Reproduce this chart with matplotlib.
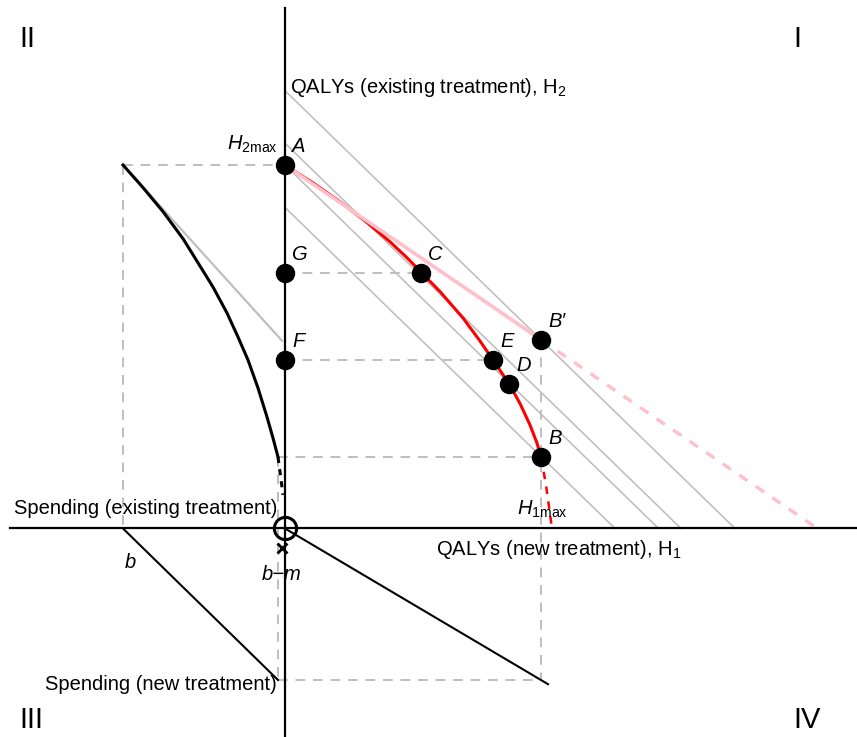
import matplotlib.pyplot as plt

plt.rcParams["font.family"] = ["Liberation Sans", "DejaVu Sans"]
plt.rcParams["mathtext.fontset"] = "custom"
plt.rcParams["mathtext.rm"] = "Liberation Sans"
plt.rcParams["mathtext.it"] = "Liberation Sans:italic"

# quadrant I: QALY frontier (new treatment H1 vs existing treatment H2)
h2_max = 3.736
frontier_h1 = [0.00, 0.28, 0.55, 0.80, 1.05, 1.22, 1.36, 1.55, 1.78, 1.95,
               2.08, 2.24, 2.35, 2.45, 2.52, 2.56]
frontier_h2 = [3.736, 3.552, 3.358, 3.162, 2.947, 2.783, 2.635, 2.435, 2.163, 1.927,
               1.733, 1.488, 1.285, 1.064, 0.877, 0.735]
frontier_ext_h1 = [2.56, 2.61, 2.67]
frontier_ext_h2 = [0.735, 0.447, 0.0]

# iso-QALY lines H1 + H2 = c
iso_levels = [4.50, 3.96, 3.736, 3.30]

# budget line through A and B'
budget_h1 = [0.0, 2.56]
budget_h2 = [3.736, 1.94]
budget_ext_h1 = [2.56, 5.325]
budget_ext_h2 = [1.94, 0.0]

# quadrant II: spending on existing treatment -> H2
spend_b = -1.62
spend_curve_x = [-1.62, -1.42, -1.22, -1.02, -0.85, -0.72, -0.58, -0.47, -0.37,
                 -0.27, -0.18, -0.12, -0.07]
spend_curve_h2 = [3.736, 3.504, 3.257, 2.979, 2.698, 2.482, 2.215, 1.968, 1.732,
                  1.444, 1.146, 0.930, 0.735]
spend_ext_x = [-0.07, -0.03, -0.02]
spend_ext_h2 = [0.735, 0.427, 0.345]
spend_lin_x = [-1.62, -0.03]
spend_lin_h2 = [3.736, 1.93]

# quadrants III / IV
new_spend_x = [-1.62, -0.07]
new_spend_y = [0.0, -1.557]
h1_spend_x = [0.0, 2.63]
h1_spend_y = [0.0, -1.60]
bm_x = -0.07
h1_max = 2.56
y_low = -1.557

point_names = ["A", "G", "C", "F", "E", "D", "B\u2032", "B"]
point_x = [0.0, 0.0, 1.36, 0.0, 2.08, 2.24, 2.56, 2.56]
point_y = [3.736, 2.63, 2.63, 1.73, 1.73, 1.489, 1.94, 0.735]

fig = plt.figure(figsize=(8.57, 7.37), dpi=100)
ax = fig.add_axes([0, 0, 1, 1])
ax.set_xlim(-2.85, 5.72)
ax.set_ylim(-2.143, 5.432)
ax.axis("off")

grey = "#bebebe"
fs = 14.5

for c in iso_levels:
    ax.plot([0, c], [c, 0], color=grey, lw=1.15, zorder=1)
ax.plot(spend_lin_x, spend_lin_h2, color=grey, lw=1.6, zorder=1)

dash = dict(color=grey, lw=1.4, ls=(0, (5, 4)), zorder=1)
ax.plot([spend_b, 0], [h2_max, h2_max], **dash)
ax.plot([spend_b, spend_b], [h2_max, 0], **dash)
ax.plot([0, point_x[2]], [point_y[2], point_y[2]], **dash)
ax.plot([0, point_x[4]], [point_y[4], point_y[4]], **dash)
ax.plot([bm_x, h1_max], [point_y[7], point_y[7]], **dash)
ax.plot([h1_max, h1_max], [point_y[6], y_low], **dash)
ax.plot([bm_x, bm_x], [point_y[7], y_low], **dash)
ax.plot([bm_x, h1_max], [y_low, y_low], **dash)

ax.plot(frontier_h1, frontier_h2, color="red", lw=2.2, zorder=2, solid_joinstyle="round")
ax.plot(frontier_ext_h1, frontier_ext_h2, color="red", lw=1.8, ls=(0, (3, 3)), zorder=2)
ax.plot(budget_h1, budget_h2, color="pink", lw=2.6, zorder=3)
ax.plot(budget_ext_h1, budget_ext_h2, color="pink", lw=2.4, ls=(0, (3, 3)), zorder=3)

ax.plot(spend_curve_x, spend_curve_h2, color="black", lw=2.2, zorder=2, solid_joinstyle="round")
ax.plot(spend_ext_x, spend_ext_h2, color="black", lw=2.2, ls=(0, (2, 2)), zorder=2)
ax.plot(new_spend_x, new_spend_y, color="black", lw=1.5, zorder=2)
ax.plot(h1_spend_x, h1_spend_y, color="black", lw=1.5, zorder=2)

# axes
ax.plot([0, 0], [-2.2, 5.35], color="black", lw=1.6, zorder=4)
ax.plot([-2.75, 5.8], [0, 0], color="black", lw=1.6, zorder=4)

ax.plot(point_x, point_y, "o", color="black", ms=13, zorder=5)
ax.plot([0], [0], "o", mfc="none", mec="black", ms=16, mew=2.2, zorder=5)
ax.plot([-0.03], [-0.2], "x", color="black", ms=6.5, mew=2, zorder=5)

for name, x, y in zip(point_names, point_x, point_y):
    ax.annotate(name, (x, y), xytext=(7, 13), textcoords="offset pixels",
                ha="left", va="baseline", fontsize=fs, style="italic", zorder=6)

ax.text(0.05, 4.476, "QALYs (existing treatment), H$_2$", fontsize=fs, va="baseline")
ax.text(1.51, -0.272, "QALYs (new treatment), H$_1$", fontsize=fs, va="baseline")
ax.text(-0.08, 0.149, "Spending (existing treatment)", fontsize=fs, ha="right", va="baseline")
ax.text(-0.08, -1.658, "Spending (new treatment)", fontsize=fs, ha="right", va="baseline")
ax.text(-0.07, 3.89, r"$H_{\mathrm{2max}}$", fontsize=fs, ha="right", va="baseline")
ax.text(2.32, 0.139, r"$H_{\mathrm{1max}}$", fontsize=fs, ha="left", va="baseline")
ax.text(-1.55, -0.406, "b", fontsize=fs, style="italic", ha="center", va="baseline")
ax.text(-0.03, -0.529, "b\u2212m", fontsize=fs, style="italic", ha="center", va="baseline")

ax.text(-2.66, 4.949, "II", fontsize=21, va="baseline")
ax.text(5.08, 4.949, "I", fontsize=21, va="baseline")
ax.text(-2.66, -2.05, "III", fontsize=21, va="baseline")
ax.text(5.08, -2.05, "IV", fontsize=21, va="baseline")

plt.savefig("out.png", dpi=100)
plt.close()
